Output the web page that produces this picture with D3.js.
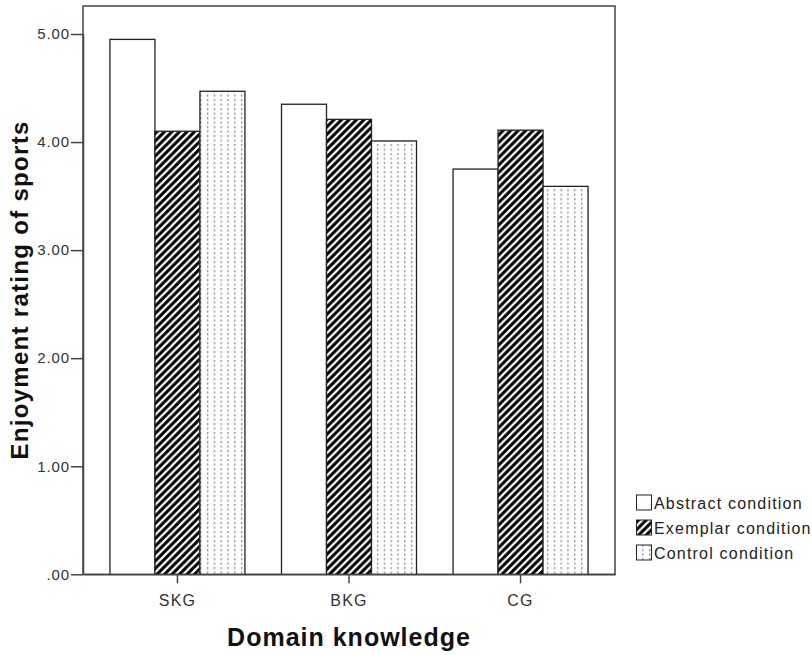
<!DOCTYPE html>
<html><head><meta charset="utf-8">
<script src="https://cdn.jsdelivr.net/npm/d3@7"></script>
<style>body{margin:0;background:#fff}</style>
</head><body>
<svg id="c" width="812" height="655"></svg>
<script>
const categories = ["SKG", "BKG", "CG"];
const seriesNames = ["Abstract condition", "Exemplar condition", "Control condition"];
const abstractValues = [4.95, 4.35, 3.75];
const exemplarValues = [4.10, 4.21, 4.11];
const controlValues = [4.47, 4.01, 3.59];
const yTicks = [0, 1, 2, 3, 4, 5];
const yTickLabels = [".00", "1.00", "2.00", "3.00", "4.00", "5.00"];
const series = [abstractValues, exemplarValues, controlValues];

const FONT = "Arial, 'Liberation Sans', sans-serif";
const svg = d3.select("#c");
const L = 83, R = 615, T = 6, B = 574.3;
const defs = svg.append("defs");
const hatch = defs.append("pattern").attr("id","hatch").attr("patternUnits","userSpaceOnUse")
  .attr("width",7.5).attr("height",7.5);
hatch.append("rect").attr("width",7.5).attr("height",7.5).attr("fill","#000");
hatch.append("path").attr("d","M-2,9.5 L9.5,-2 M-2,2 L2,-2 M5.5,9.5 L9.5,5.5").attr("stroke","#fff").attr("stroke-width",2.2);
const dots = defs.append("pattern").attr("id","dots").attr("patternUnits","userSpaceOnUse")
  .attr("width",6.8).attr("height",4.5);
dots.append("rect").attr("width",6.8).attr("height",4.5).attr("fill","#fff");
dots.append("rect").attr("x",3).attr("y",0).attr("width",1.2).attr("height",2.2).attr("fill","#888");
const fills = ["#fff", "url(#hatch)", "url(#dots)"];

const x0 = d3.scaleBand().domain(categories).range([L, R]).paddingInner(0.213).paddingOuter(0.157);
const x1 = d3.scaleBand().domain(d3.range(3)).range([0, x0.bandwidth()]);
const y = d3.scaleLinear().domain([0, 5]).range([B, B - 5 * 108.06]);

// frame
svg.append("rect").attr("x",L).attr("y",T).attr("width",R-L).attr("height",B-T)
  .attr("fill","none").attr("stroke","#444").attr("stroke-width",1.5);

categories.forEach((c, i) => {
  series.forEach((s, j) => {
    svg.append("rect").attr("x", x0(c) + x1(j)).attr("y", y(s[i]))
      .attr("width", x1.bandwidth()).attr("height", y(0) - y(s[i]))
      .attr("fill", fills[j]).attr("stroke", "#222").attr("stroke-width", 1.3);
  });
});

const ya = svg.append("g").attr("transform", `translate(${L},0)`)
  .call(d3.axisLeft(y).tickValues(yTicks).tickFormat((d,i)=>yTickLabels[i]).tickSize(12).tickSizeOuter(0));
ya.attr("font-size", null).attr("font-family", null);
ya.select(".domain").attr("stroke","#444").attr("stroke-width",1.5);
ya.selectAll(".tick line").attr("stroke","#444").attr("stroke-width",1.5);
ya.selectAll(".tick text").style("font-family",FONT).style("font-size","15px").style("letter-spacing","0.9px")
  .attr("fill","#333").attr("x",-13);

const xa = svg.append("g").attr("transform", `translate(0,${B})`)
  .call(d3.axisBottom(x0).tickSize(9).tickSizeOuter(0));
xa.attr("font-size", null).attr("font-family", null);
xa.select(".domain").attr("stroke","#444").attr("stroke-width",1.5);
xa.selectAll(".tick line").attr("stroke","#444").attr("stroke-width",1.5);
xa.selectAll(".tick text").style("font-family",FONT).style("font-size","16px").style("letter-spacing","1.2px")
  .attr("fill","#333").attr("y",32).attr("dy",null);

svg.append("text").attr("x", (L+R)/2).attr("y", 646).attr("text-anchor","middle")
  .style("font-family",FONT).style("font-weight","bold").style("font-size","25px").style("letter-spacing","1px").attr("fill","#111")
  .text("Domain knowledge");
svg.append("text").attr("transform", `translate(28,290) rotate(-90)`).attr("text-anchor","middle")
  .style("font-family",FONT).style("font-weight","bold").style("font-size","24px").style("letter-spacing","1.3px").attr("fill","#111")
  .text("Enjoyment rating of sports");

const lg = svg.append("g");
seriesNames.forEach((n, j) => {
  const yy = 503 + j * 25;
  lg.append("rect").attr("x", 636.5).attr("y", yy - 8).attr("width", 15).attr("height", 15)
    .attr("fill", fills[j]).attr("stroke", "#222").attr("stroke-width", 1);
  lg.append("text").attr("x", 654).attr("y", yy + 6).style("font-family",FONT)
    .style("font-size","16px").style("letter-spacing","1.2px").attr("fill","#222").text(n);
});
</script>
</body></html>
